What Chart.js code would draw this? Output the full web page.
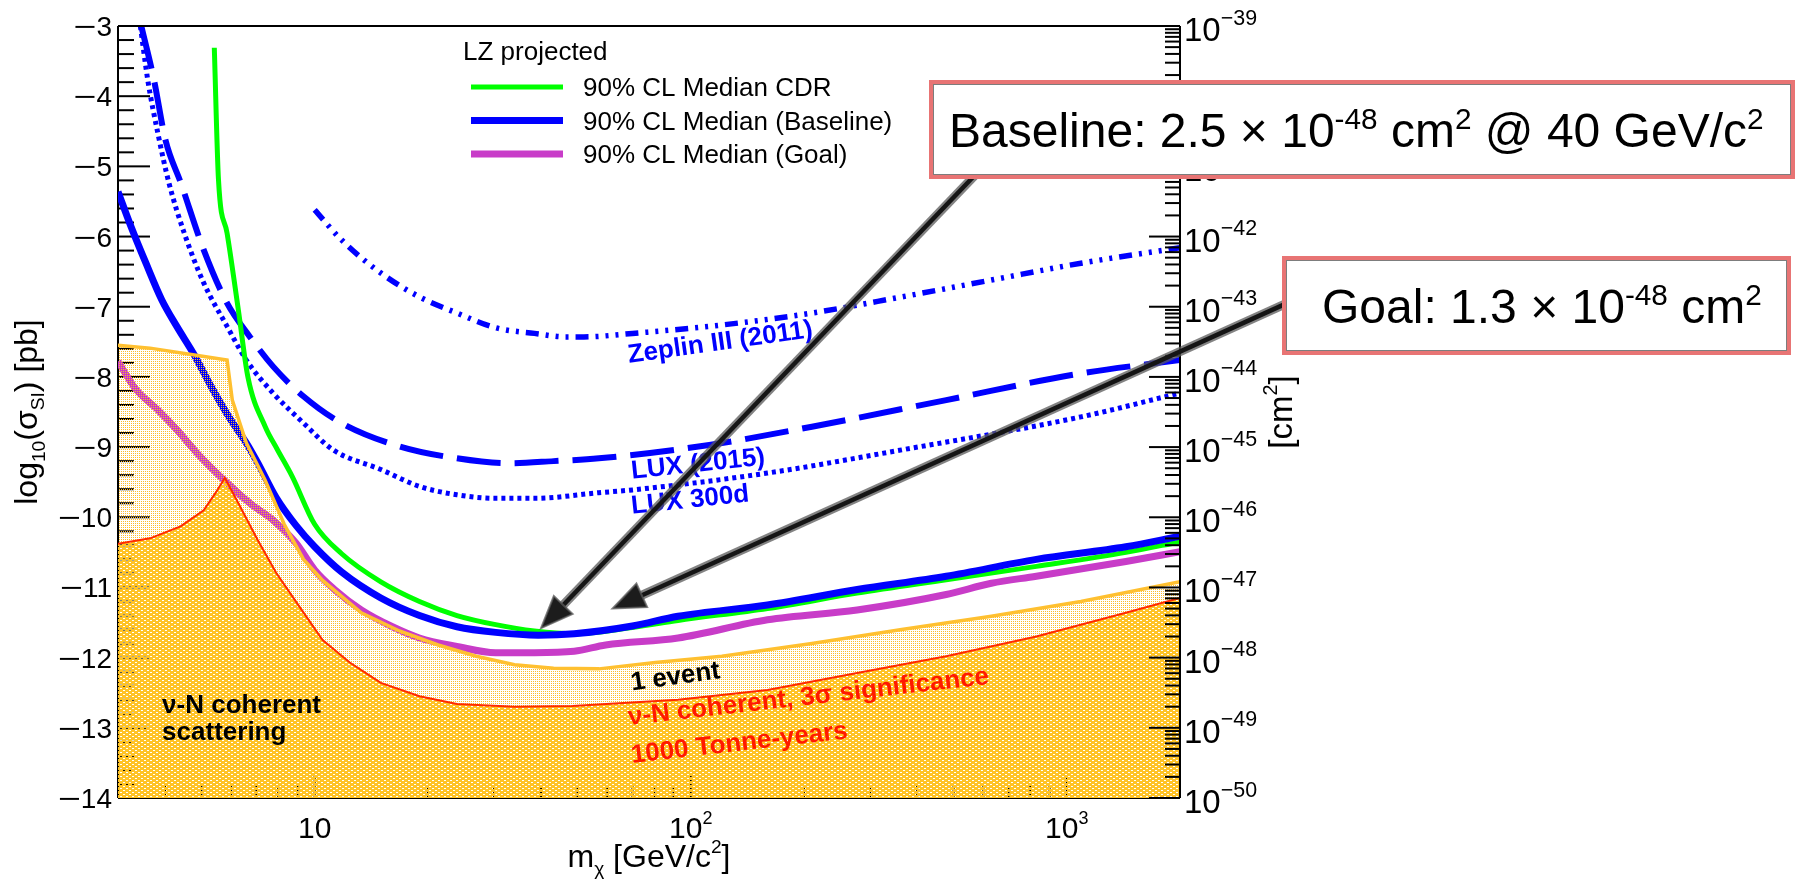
<!DOCTYPE html>
<html><head><meta charset="utf-8">
<script src="https://cdn.jsdelivr.net/npm/chart.js@4.4.0/dist/chart.umd.min.js"></script>
<style>html,body{margin:0;padding:0;background:#fff;}canvas{display:block;}</style>
</head><body>
<canvas id="c" width="1797" height="882"></canvas>
<script>
// ---------------- data (mass in GeV/c^2, log10 sigma in pb) ----------------
const cdrMass  = [5.41,5.55,5.85,6.27,6.65,7.39,7.93,8.72,10.0,11.8,15.0,19.0,23.9,30.3,38.4,49,70,92.5,160,277,478,830,1436,2000];
const cdrLog   = [-3.31,-5.19,-5.95,-7.05,-8.01,-8.71,-9.02,-9.42,-10.1,-10.52,-10.92,-11.2,-11.4,-11.53,-11.62,-11.66,-11.57,-11.47,-11.3,-11.08,-10.89,-10.7,-10.5,-10.35];
const baseMass = [3.0,3.25,3.56,3.92,4.3,4.79,5.31,5.98,6.58,7.05,7.9,8.93,10.0,11.8,15,19,23.9,30.3,39.3,49,70,92.5,160,277,478,830,1436,2000];
const baseLog  = [-5.36,-5.86,-6.38,-6.9,-7.28,-7.69,-8.14,-8.61,-8.94,-9.22,-9.72,-10.12,-10.42,-10.78,-11.15,-11.4,-11.56,-11.64,-11.68,-11.66,-11.55,-11.41,-11.25,-11.03,-10.84,-10.6,-10.42,-10.27];
const goalMass = [3.0,3.34,3.83,4.3,4.84,5.85,6.73,7.75,8.93,10,11.3,13.3,16.1,19,23.9,30.3,38.4,49,59.4,92.5,160,277,478,630,830,1436,2000];
const goalLog  = [-7.78,-8.17,-8.47,-8.75,-9.07,-9.51,-9.8,-10.04,-10.37,-10.75,-11.03,-11.32,-11.56,-11.72,-11.84,-11.93,-11.93,-11.91,-11.82,-11.72,-11.46,-11.32,-11.1,-10.94,-10.84,-10.63,-10.49];
const lux15Mass = [3.46,3.74,4.01,4.41,5.07,5.85,6.73,7.75,9.35,11.8,16.8,23.9,32.6,43.2,57,112,210,478,1090,2000];
const lux15Log  = [-3.0,-3.77,-4.62,-5.24,-6.19,-6.95,-7.43,-7.85,-8.28,-8.66,-8.99,-9.16,-9.23,-9.2,-9.16,-8.97,-8.71,-8.33,-7.95,-7.76];
const lux300Mass = [3.44,3.6,3.83,4.1,4.5,5.07,5.85,6.58,7.75,9.35,11.2,15,19,23.9,30.3,38.4,57,70,160,364,1090,2000];
const lux300Log  = [-3.0,-3.77,-4.53,-5.24,-5.95,-6.66,-7.28,-7.76,-8.23,-8.66,-9.04,-9.32,-9.56,-9.68,-9.73,-9.73,-9.65,-9.61,-9.37,-9.04,-8.57,-8.23];
const zepMass = [10,11.8,15,19,23.9,30.3,38.4,46.5,52,70,121,210,364,630,1090,2000];
const zepLog  = [-5.62,-6.05,-6.52,-6.86,-7.09,-7.3,-7.38,-7.43,-7.43,-7.38,-7.26,-7.09,-6.86,-6.62,-6.38,-6.16];
const oneEvMass = [2.9,3.65,4.84,5.85,6.04,6.58,7.38,8.3,9.34,10.5,13.3,16.8,21.3,26.9,34,43.2,57,80.5,121,210,364,630,1090,2000];
const oneEvLog  = [-7.54,-7.59,-7.69,-7.76,-8.33,-8.94,-9.47,-10.1,-10.6,-10.9,-11.36,-11.62,-11.82,-11.98,-12.1,-12.15,-12.16,-12.07,-11.98,-11.8,-11.6,-11.41,-11.2,-10.92];
const cohMass = [2.9,3.65,4.4,5.07,5.44,5.77,6.27,7.05,7.9,9.1,10.5,12.4,15,19,23.9,34,48.5,92.5,160,277,478,830,1436,2000];
const cohLog  = [-10.39,-10.3,-10.13,-9.9,-9.66,-9.44,-9.8,-10.32,-10.79,-11.27,-11.75,-12.07,-12.36,-12.55,-12.66,-12.7,-12.69,-12.6,-12.46,-12.22,-11.98,-11.7,-11.36,-11.15];

// ---------------- axis ticks ----------------
const xMajor = [10,100,1000];
const xMajorExp = [1,2,3];
const xMinor = [3,4,5,6,7,8,9,20,30,40,50,60,70,80,90,200,300,400,500,600,700,800,900,2000];
const yMajor = [-14,-13,-12,-11,-10,-9,-8,-7,-6,-5,-4,-3];
const rightExp = [-50,-49,-48,-47,-46,-45,-44,-43,-42,-41,-40,-39];

// ---------------- annotations (data coordinates) ----------------
const legendTitle = 'LZ projected';
const legendLabels = ['90% CL Median CDR','90% CL Median (Baseline)','90% CL Median (Goal)'];
const noteTexts  = ['Zeplin III (2011)','LUX (2015)','LUX 300d','1 event','ν-N coherent, 3σ significance','1000 Tonne-years','ν-N coherent','scattering'];
const noteMass   = [68.5,69.8,69.8,69.8,68.5,69.8,3.93,3.93];
const noteLog    = [-7.80,-9.45,-9.95,-12.47,-12.96,-13.5,-12.79,-13.17];
const noteAngle  = [8,6,6,8,6.5,6.5,0,0];
const noteColor  = ['#0000ff','#0000ff','#0000ff','#000000','#ff1a00','#ff1a00','#000000','#000000'];
const arrowFromMass = [571,3775];
const arrowFromLog  = [-5.12,-6.97];
const arrowToMass   = [40,62];
const arrowToLog    = [-11.58,-11.3];

const FONT = '"Liberation Sans", Arial, Helvetica, sans-serif';
const pts = (ms, vs) => ms.map((m,i) => ({x:m, y:vs[i]}));

// patterns
function makePattern(w,h,bg,cells,cellColor){
  const t=document.createElement('canvas'); t.width=w; t.height=h;
  const g=t.getContext('2d');
  if(bg){g.fillStyle=bg; g.fillRect(0,0,w,h);}
  for(const [x,y] of cells){ if(cellColor){g.fillStyle=cellColor; g.fillRect(x,y,1,1);} else g.clearRect(x,y,1,1); }
  return document.createElement('canvas').getContext('2d').createPattern(t,'repeat');
}
const densePat = makePattern(6,4,'rgb(255,195,38)',[[0,0],[1,0],[3,2],[4,2]],null);
const lightPat = makePattern(2,2,null,[[1,1]],'rgb(255,190,40)');

function richWidth(ctx, parts, size, weight){
  let w=0; for(const p of parts){ ctx.font=`${weight} ${size*(p.s||1)}px ${FONT}`; w+=ctx.measureText(p.t).width*(p.sx||1); } return w;
}
function drawRich(ctx, parts, x, y, size, align, weight, color){
  weight=weight||'normal';
  const w=richWidth(ctx,parts,size,weight);
  let cx = align==='center'? x-w/2 : align==='right'? x-w : x;
  ctx.textAlign='left'; ctx.textBaseline='alphabetic'; ctx.fillStyle=color||'#000';
  for(const p of parts){ ctx.font=`${weight} ${size*(p.s||1)}px ${FONT}`;
    const sx=p.sx||1; const yy=y-(p.dy||0)*size;
    if(sx!==1){ ctx.save(); ctx.translate(cx,yy); ctx.scale(sx,1); ctx.fillText(p.t,0,0); ctx.restore(); }
    else ctx.fillText(p.t, cx, yy);
    cx+=ctx.measureText(p.t).width*sx; }
}
function line(ctx,x1,y1,x2,y2){ctx.beginPath();ctx.moveTo(x1,y1);ctx.lineTo(x2,y2);ctx.stroke();}

const bgPlugin = { id:'bg', beforeDraw(c){ const g=c.ctx; g.save(); g.fillStyle='#fff'; g.fillRect(0,0,c.width,c.height); g.restore(); } };

const underPlugin = { id:'under', beforeDatasetsDraw(c){
  const g=c.ctx, a=c.chartArea, xs=c.scales.x, ys=c.scales.y;
  g.save(); g.strokeStyle='#000'; g.lineWidth=2;
  line(g,a.left,a.top,a.left,a.bottom); line(g,a.left,a.bottom,a.right,a.bottom);
  for(let v=-14; v<=-3.001; v+=0.2){ const vv=Math.round(v*10)/10; const y=ys.getPixelForValue(vv);
    const major=Math.abs(vv-Math.round(vv))<1e-6; line(g,a.left,y,a.left+(major?32:16),y); }
  for(const m of xMajor){ const x=xs.getPixelForValue(m); line(g,x,a.bottom,x,a.bottom-23); }
  for(const m of xMinor){ const x=xs.getPixelForValue(m); line(g,x,a.bottom,x,a.bottom-12); }
  g.restore();
}};

const overPlugin = { id:'over',
 afterDatasetsDraw(c){
  const g=c.ctx, a=c.chartArea, y2=c.scales.y2;
  g.save(); g.strokeStyle='#000'; g.lineWidth=2;
  line(g,a.left,a.top,a.right,a.top); line(g,a.right,a.top,a.right,a.bottom);
  for(const e of rightExp){ const y=y2.getPixelForValue(Math.pow(10,e)); line(g,a.right,y,a.right-31,y);
    if(e<-39){ for(let k=2;k<=9;k++){ const yy=y2.getPixelForValue(k*Math.pow(10,e)); line(g,a.right,yy,a.right-15,yy);} } }
  g.restore();
 },
 afterDraw(c){
  const g=c.ctx, a=c.chartArea, xs=c.scales.x, ys=c.scales.y, y2=c.scales.y2;
  g.save();
  // left labels (wide ROOT-style minus)
  for(const v of yMajor){ drawRich(g,[{t:'\u2212',sx:1.4},{t:String(Math.abs(v))}], a.left-6, ys.getPixelForValue(v)+10, 28,'right'); }
  // bottom labels
  xMajor.forEach((m,i)=>{ const parts = xMajorExp[i]===1?[{t:'10'}]:[{t:'10'},{t:String(xMajorExp[i]),s:0.6,dy:0.46}];
    drawRich(g,parts,xs.getPixelForValue(m),a.bottom+40,30,'center'); });
  // right labels
  for(const e of rightExp){ drawRich(g,[{t:'10'},{t:'\u2212'+Math.abs(e),s:0.65,dy:0.5}], a.right+4, y2.getPixelForValue(Math.pow(10,e))+15, 33,'left'); }
  // axis titles
  g.save(); g.translate(37,(a.top+a.bottom)/2); g.rotate(-Math.PI/2);
  drawRich(g,[{t:'log'},{t:'10',s:0.6,dy:-0.25},{t:'(σ'},{t:'SI',s:0.6,dy:-0.22},{t:') [pb]'}],0,0,32,'center'); g.restore();
  drawRich(g,[{t:'m'},{t:'χ',s:0.6,dy:-0.25},{t:' [GeV/c'},{t:'2',s:0.6,dy:0.45},{t:']'}],(a.left+a.right)/2,867,32,'center');
  g.save(); g.translate(a.right+112,(a.top+a.bottom)/2); g.rotate(-Math.PI/2);
  drawRich(g,[{t:'[cm'},{t:'2',s:0.6,dy:0.45},{t:']'}],0,0,33,'center'); g.restore();
  // legend
  g.fillStyle='#000'; g.font=`26px ${FONT}`; g.textAlign='left'; g.fillText(legendTitle,463,60);
  const legDs=[c.data.datasets[4],c.data.datasets[3],c.data.datasets[2]];
  legendLabels.forEach((lab,i)=>{ const y=87+i*33.5; g.strokeStyle=legDs[i].borderColor; g.lineWidth=legDs[i].borderWidth; g.setLineDash([]);
    line(g,471,y,563,y); g.fillStyle='#000'; g.font=`26px ${FONT}`; g.fillText(lab,583,y+9); });
  // text notes
  noteTexts.forEach((t,i)=>{ const px=xs.getPixelForValue(noteMass[i]), py=ys.getPixelForValue(noteLog[i]);
    g.save(); g.translate(px,py); g.rotate(-noteAngle[i]*Math.PI/180); g.fillStyle=noteColor[i];
    g.font=`bold 26px ${FONT}`; g.textAlign='left'; g.textBaseline='alphabetic'; g.fillText(t,0,0); g.restore(); });
  // arrows
  for(let i=0;i<2;i++){
    const x1=xs.getPixelForValue(arrowFromMass[i]), y1=ys.getPixelForValue(arrowFromLog[i]);
    const x2=xs.getPixelForValue(arrowToMass[i]), y2p=ys.getPixelForValue(arrowToLog[i]);
    const an=Math.atan2(y2p-y1,x2-x1), hl=32, hw=13;
    const bx=x2-hl*Math.cos(an), by=y2p-hl*Math.sin(an);
    g.lineCap='butt';
    g.strokeStyle='rgba(90,90,90,0.75)'; g.lineWidth=9; line(g,x1,y1,bx+4*Math.cos(an),by+4*Math.sin(an));
    g.strokeStyle='#151515'; g.lineWidth=4.5; line(g,x1,y1,bx+4*Math.cos(an),by+4*Math.sin(an));
    g.fillStyle='#1c1c1c'; g.strokeStyle='rgba(90,90,90,0.75)'; g.lineWidth=2; g.beginPath(); g.moveTo(x2,y2p);
    g.lineTo(bx+hw*Math.sin(an),by-hw*Math.cos(an)); g.lineTo(bx-hw*Math.sin(an),by+hw*Math.cos(an)); g.closePath(); g.fill(); g.stroke();
  }
  // boxes
  function box(x1,y1,x2,y2,parts,tx){
    g.fillStyle='#fff'; g.fillRect(x1,y1,x2-x1,y2-y1);
    g.strokeStyle='#e87474'; g.lineWidth=4; g.strokeRect(x1,y1,x2-x1,y2-y1);
    g.strokeStyle='rgba(70,70,70,0.7)'; g.lineWidth=1; g.strokeRect(x1+2.5,y1+2.5,x2-x1-5,y2-y1-5);
    drawRich(g,parts,tx,(y1+y2)/2+17,48,'left');
  }
  box(931,82,1793,177,[{t:'Baseline: 2.5 × 10'},{t:'-48',s:0.62,dy:0.36},{t:' cm'},{t:'2',s:0.62,dy:0.36},{t:' @ 40 GeV/c'},{t:'2',s:0.62,dy:0.36}],949);
  box(1284,258,1789,353,[{t:'Goal: 1.3 × 10'},{t:'-48',s:0.62,dy:0.36},{t:' cm'},{t:'2',s:0.62,dy:0.36}],1322);
  g.restore();
 }
};

const smooth = {tension:0.4, cubicInterpolationMode:'monotone'};
const chart = new Chart(document.getElementById('c').getContext('2d'), {
  type:'line',
  data:{ datasets:[
    {label:'coherent', data:pts(cohMass,cohLog), borderColor:'#ff2a00', borderWidth:2, backgroundColor:densePat, fill:'start', tension:0, order:1, clip:0},
    {label:'1 event', data:pts(oneEvMass,oneEvLog), borderColor:'#ffc030', borderWidth:3.5, backgroundColor:lightPat, fill:'start', tension:0, order:2, clip:0},
    Object.assign({label:'Goal', data:pts(goalMass,goalLog), borderColor:'#c83cc8', borderWidth:7, fill:false, order:3, clip:0},smooth),
    Object.assign({label:'Baseline', data:pts(baseMass,baseLog), borderColor:'#0000ff', borderWidth:7, fill:false, order:4, clip:0},smooth),
    Object.assign({label:'CDR', data:pts(cdrMass,cdrLog), borderColor:'#00ff00', borderWidth:5, fill:false, order:5, clip:0},smooth),
    Object.assign({label:'LUX 300d', data:pts(lux300Mass,lux300Log), borderColor:'#0000ff', borderWidth:5, borderDash:[4,4], fill:false, order:6, clip:0},smooth),
    Object.assign({label:'LUX 2015', data:pts(lux15Mass,lux15Log), borderColor:'#0000ff', borderWidth:6, borderDash:[44,14], fill:false, order:7, clip:0},smooth),
    Object.assign({label:'Zeplin III', data:pts(zepMass,zepLog), borderColor:'#0000ff', borderWidth:5.5, borderDash:[13,7,3,7,3,7,3,7], fill:false, order:8, clip:0},smooth)
  ]},
  options:{
    responsive:false, animation:false, devicePixelRatio:1, events:[],
    layout:{padding:{top:26,left:0,right:0,bottom:0}},
    plugins:{legend:{display:false}, tooltip:{enabled:false}, title:{display:false}},
    elements:{point:{radius:0}},
    scales:{
      x:{type:'logarithmic', min:3, max:2000, position:'bottom', ticks:{display:false}, grid:{display:false, drawTicks:false}, border:{display:false}, afterFit(s){s.height=84;}},
      y:{type:'linear', min:-14, max:-3, position:'left', ticks:{display:false}, grid:{display:false, drawTicks:false}, border:{display:false}, afterFit(s){s.width=118;}},
      y2:{type:'logarithmic', min:1e-50, max:1e-39, position:'right', ticks:{display:false}, grid:{display:false, drawTicks:false}, border:{display:false}, afterFit(s){s.width=617;}}
    }
  },
  plugins:[bgPlugin, underPlugin, overPlugin]
});
</script>
</body></html>
